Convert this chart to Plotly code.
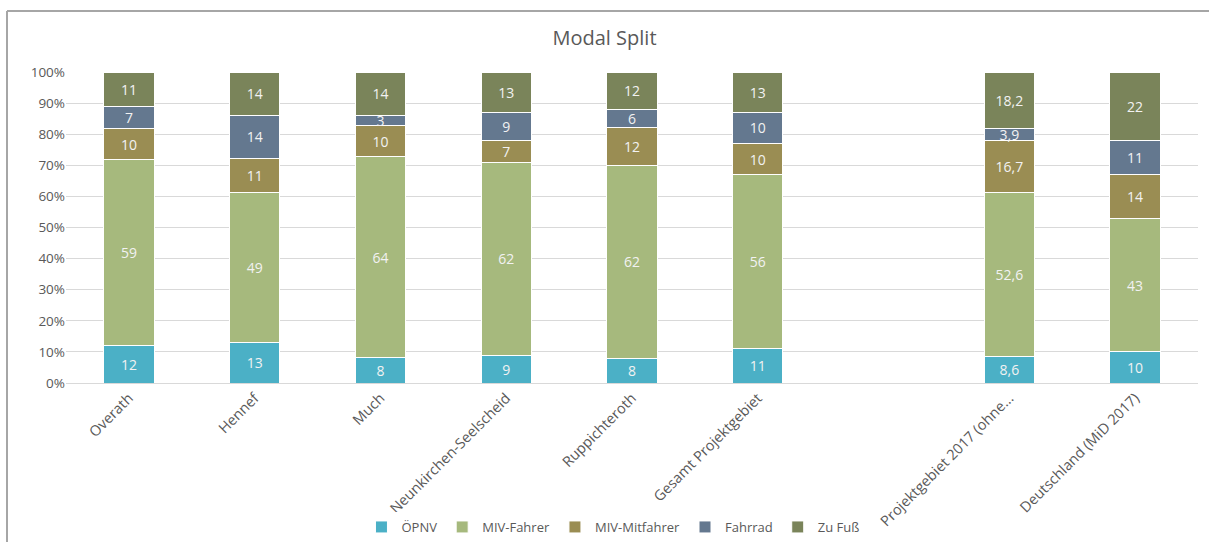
import plotly.graph_objects as go

categories = ["Overath", "Hennef", "Much", "Neunkirchen-Seelscheid", "Ruppichteroth",
              "Gesamt Projektgebiet", " ", "Projektgebiet 2017 (ohne...", "Deutschland (MiD 2017)"]

oepnv = [12, 13, 8, 9, 8, 11, None, 8.6, 10]
miv_fahrer = [59, 49, 64, 62, 62, 56, None, 52.6, 43]
miv_mitfahrer = [10, 11, 10, 7, 12, 10, None, 16.7, 14]
fahrrad = [7, 14, 3, 9, 6, 10, None, 3.9, 11]
zu_fuss = [11, 14, 14, 13, 12, 13, None, 18.2, 22]

series = [
    ("ÖPNV", oepnv, "#4BB0C6"),
    ("MIV-Fahrer", miv_fahrer, "#A6B97D"),
    ("MIV-Mitfahrer", miv_mitfahrer, "#9A8D53"),
    ("Fahrrad", fahrrad, "#64788F"),
    ("Zu Fuß", zu_fuss, "#7A845A"),
]

def fmt(v):
    if v is None:
        return ""
    if float(v).is_integer():
        return str(int(v))
    return str(v).replace(".", ",")

fig = go.Figure()
for name, vals, color in series:
    fig.add_trace(go.Bar(
        name=name, x=categories, y=vals,
        marker=dict(color=color, line=dict(color="white", width=1)),
        text=[fmt(v) for v in vals],
        textposition="inside", insidetextanchor="middle", textangle=0,
        textfont=dict(size=14, color="#F2F2F2"),
        hoverinfo="skip",
    ))

fig.update_layout(
    barmode="stack", barnorm="percent", bargap=0.6,
    width=1209, height=542,
    margin=dict(l=66, r=11, t=72, b=159),
    paper_bgcolor="white", plot_bgcolor="white",
    font=dict(family="Open Sans, sans-serif", color="#595959", size=13),
    uniformtext=dict(minsize=14, mode="show"),
    title=dict(text="Modal Split", x=0.5, xref="container", xanchor="center",
               y=1 - 38 / 542, yref="container", yanchor="middle",
               font=dict(size=20, color="#595959")),
    legend=dict(orientation="h", xref="container", x=0.507, xanchor="center",
                yref="container", y=1 - 527 / 542, yanchor="middle",
                font=dict(size=13, color="#595959"), traceorder="normal",
                itemwidth=30),
    showlegend=True,
)
fig.update_xaxes(type="category", categoryorder="array", categoryarray=categories,
                 range=[-0.5, 8.5], tickangle=-45, showgrid=False, automargin=False,
                 showline=True, linecolor="#D9D9D9", linewidth=1, ticks="",
                 tickfont=dict(size=14.5, color="#595959"))
fig.update_yaxes(range=[0, 100], dtick=10, ticksuffix="%", showgrid=True, automargin=False,
                 gridcolor="#D9D9D9", gridwidth=1, zeroline=False,
                 tickfont=dict(size=13.5, color="#595959"))

# outer chart frame (top and left edges visible)
fig.add_shape(type="line", xref="paper", yref="paper",
              x0=(7 - 66) / 1132, x1=(1209 - 66) / 1132,
              y0=(383 - 11) / 311, y1=(383 - 11) / 311,
              line=dict(color="#A6A6A6", width=2))
fig.add_shape(type="line", xref="paper", yref="paper",
              x0=(7 - 66) / 1132, x1=(7 - 66) / 1132,
              y0=(383 - 11) / 311, y1=(383 - 545) / 311,
              line=dict(color="#A6A6A6", width=2))

fig.write_html("out.html")
